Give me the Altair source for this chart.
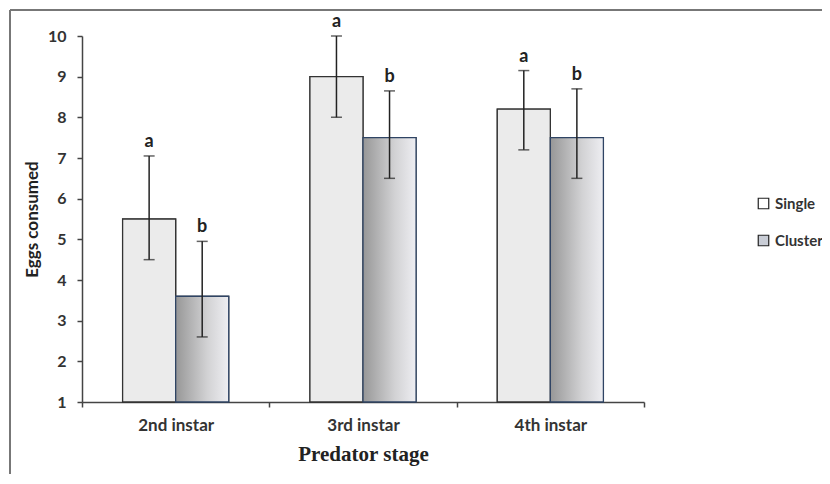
import altair as alt
import pandas as pd

stages = ["2nd instar", "3rd instar", "4th instar"]
series = ["Single", "Cluster"]
single_mean = [5.5, 9.0, 8.2]
single_low = [4.5, 8.0, 7.2]
single_high = [7.05, 10.0, 9.15]
cluster_mean = [3.6, 7.5, 7.5]
cluster_low = [2.6, 6.5, 6.5]
cluster_high = [4.95, 8.65, 8.7]
single_letters = ["a", "a", "a"]
cluster_letters = ["b", "b", "b"]

rows = []
for i, s in enumerate(stages):
    rows.append(dict(stage=s, series="Single", mean=single_mean[i], low=single_low[i],
                     high=single_high[i], letter=single_letters[i]))
    rows.append(dict(stage=s, series="Cluster", mean=cluster_mean[i], low=cluster_low[i],
                     high=cluster_high[i], letter=cluster_letters[i]))
df = pd.DataFrame(rows)

W, H = 562, 366
LBL = "Lato"

x = alt.X("stage:N", sort=stages,
          scale=alt.Scale(paddingInner=0, paddingOuter=0),
          axis=alt.Axis(title="Predator stage", labelAngle=0, tickBand="extent",
                        grid=False,
                        labelFont=LBL, labelFontSize=17, labelFontWeight="bold",
                        labelColor="#333", labelPadding=10, tickSize=5,
                        tickColor="#444", domainColor="#444", domainWidth=1.5,
                        tickWidth=1.5,
                        titleFont="Liberation Serif", titleFontSize=21,
                        titleFontWeight="bold", titleColor="#222", titlePadding=10))
xo = alt.XOffset("series:N", sort=series,
                 scale=alt.Scale(domain=series, paddingOuter=0.765, paddingInner=0))
y = alt.Y("mean:Q",
          scale=alt.Scale(domain=[1, 10], nice=False, zero=False),
          axis=alt.Axis(title="Eggs consumed", values=list(range(1, 11)), grid=False,
                        labelFont=LBL, labelFontSize=16, labelFontWeight="bold",
                        labelColor="#333", labelPadding=11, tickSize=5,
                        tickColor="#444", domainColor="#444", domainWidth=1.5,
                        tickWidth=1.5,
                        titleFont=LBL, titleFontSize=17, titleFontWeight="bold",
                        titleColor="#222", titlePadding=6))

base = alt.Chart(df)

legend_bars = base.mark_bar(stroke="#333", strokeWidth=1.2).encode(
    x=x, xOffset=xo, y=y, y2=alt.datum(1),
    fill=alt.Fill("series:N", sort=series,
                  scale=alt.Scale(domain=series, range=["#ffffff", "#c9cdd6"]),
                  legend=alt.Legend(title=None, orient="none", legendX=674, legendY=160,
                                    symbolType="square", symbolSize=110,
                                    symbolStrokeColor="#222", symbolStrokeWidth=1.2,
                                    labelFont=LBL, labelFontSize=15,
                                    labelFontWeight="bold", labelColor="#333",
                                    rowPadding=20, labelOffset=4))
)

single_bars = base.transform_filter(alt.datum.series == "Single").mark_bar(
    fill="#ebebeb", stroke="#333", strokeWidth=1.3
).encode(x=x, xOffset=xo, y=y, y2=alt.datum(1))

grad = alt.LinearGradient(
    gradient="linear",
    stops=[alt.GradientStop(color="#979797", offset=0),
           alt.GradientStop(color="#d2d2d4", offset=0.6),
           alt.GradientStop(color="#eeeef2", offset=1)],
    x1=0, x2=1, y1=0, y2=0)

cluster_bars = base.transform_filter(alt.datum.series == "Cluster").mark_bar(
    fill=grad, stroke="#2f4464", strokeWidth=1.3
).encode(x=x, xOffset=xo, y=y, y2=alt.datum(1))

err = base.mark_rule(color="#222", strokeWidth=1.5).encode(
    x=x, xOffset=xo, y=alt.Y("low:Q"), y2="high:Q")
cap_lo = base.mark_tick(color="#222", thickness=1.5, size=11, orient="horizontal").encode(
    x=x, xOffset=xo, y="low:Q")
cap_hi = base.mark_tick(color="#222", thickness=1.5, size=11, orient="horizontal").encode(
    x=x, xOffset=xo, y="high:Q")
letters = base.mark_text(font=LBL, fontSize=18, fontWeight="bold", color="#222",
                         dy=-14).encode(x=x, xOffset=xo, y="high:Q", text="letter:N")

frame_left = alt.Chart(df).mark_rule(color="#777", strokeWidth=2).encode(
    x=alt.value(-72), y=alt.value(-26), y2=alt.value(H + 100))
frame_top = alt.Chart(df).mark_rule(color="#777", strokeWidth=2).encode(
    x=alt.value(-72), x2=alt.value(W + 300), y=alt.value(-26))

chart = alt.layer(
    legend_bars, single_bars, cluster_bars, err, cap_lo, cap_hi, letters,
    frame_left, frame_top
).properties(
    width=W, height=H,
    background="white",
    autosize=alt.AutoSizeParams(type="none"),
    padding={"left": 74, "top": 28, "right": 178, "bottom": 72},
).configure_view(stroke="transparent", strokeWidth=0).configure_axis(grid=False)

chart.save("out.html", embed_options={"renderer": "svg", "actions": False})
